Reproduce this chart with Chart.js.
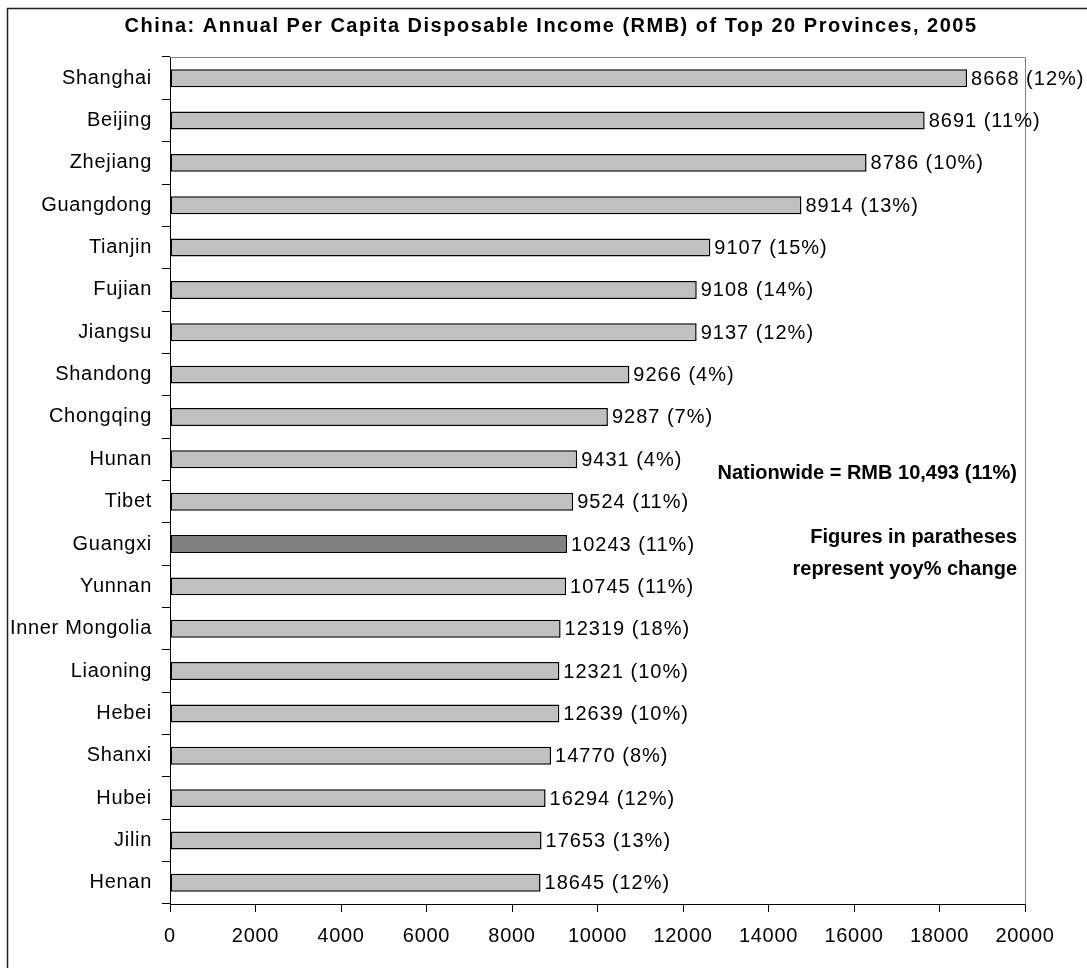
<!DOCTYPE html>
<html>
<head>
<meta charset="utf-8">
<script src="https://cdn.jsdelivr.net/npm/chart.js@4.4.1/dist/chart.umd.min.js"></script>
<style>
  html, body { margin: 0; padding: 0; background: #fff; }
  #wrap { width: 1087px; height: 968px; }
</style>
</head>
<body>
<div id="wrap"><canvas id="c" width="1087" height="968"></canvas></div>
<script>
// Provinces, top to bottom
const provinces = ['Shanghai', 'Beijing', 'Zhejiang', 'Guangdong', 'Tianjin', 'Fujian', 'Jiangsu',
  'Shandong', 'Chongqing', 'Hunan', 'Tibet', 'Guangxi', 'Yunnan', 'Inner Mongolia', 'Liaoning',
  'Hebei', 'Shanxi', 'Hubei', 'Jilin', 'Henan'];

// Annual per capita disposable income (RMB), 2005
const incomes = [18645, 17653, 16294, 14770, 12639, 12321, 12319, 10745, 10243, 9524,
  9431, 9287, 9266, 9137, 9108, 9107, 8914, 8786, 8691, 8668];

// Year-on-year change (%) paired with each income figure above
const yoyChange = [12, 13, 12, 8, 10, 10, 18, 11, 11, 11, 4, 7, 4, 12, 14, 15, 13, 10, 11, 12];

const xTicks = [0, 2000, 4000, 6000, 8000, 10000, 12000, 14000, 16000, 18000, 20000];

const highlighted = 'Guangxi';
const titleText = 'China: Annual Per Capita Disposable Income (RMB) of Top 20 Provinces, 2005';
const noteLines = [
  { text: 'Nationwide = RMB 10,493 (11%)', y: 473 },
  { text: 'Figures in paratheses', y: 537 },
  { text: 'represent yoy% change', y: 569 }
];

const FONT = "'Liberation Sans', Arial, Helvetica, sans-serif";

// Value labels are listed in the reverse order of the bars
const labelFor = i => {
  const j = incomes.length - 1 - i;
  return incomes[j] + ' (' + yoyChange[j] + '%)';
};

const decorations = {
  id: 'decorations',
  beforeDraw(chart) {
    // slightly looser tracking for the axis text
    chart.ctx.letterSpacing = '0.7px';
  },
  beforeDatasetsDraw(chart) {
    const { ctx, chartArea: a } = chart;
    ctx.save();
    // plot frame: top and right edges in grey
    ctx.strokeStyle = '#808080';
    ctx.lineWidth = 1;
    ctx.beginPath();
    ctx.moveTo(Math.round(a.left) + 0.5, Math.round(a.top) + 0.5);
    ctx.lineTo(Math.round(a.right) + 0.5, Math.round(a.top) + 0.5);
    ctx.lineTo(Math.round(a.right) + 0.5, Math.round(a.bottom) + 0.5);
    ctx.stroke();
    ctx.restore();
  },
  afterDraw(chart) {
    const { ctx } = chart;
    ctx.save();
    // outer border
    ctx.strokeStyle = '#222';
    ctx.lineWidth = 1.5;
    ctx.strokeRect(7.5, 8.5, 1200, 1200);

    // title
    ctx.fillStyle = '#000';
    ctx.font = 'bold 20px ' + FONT;
    ctx.letterSpacing = '1.5px';
    ctx.textAlign = 'center';
    ctx.textBaseline = 'middle';
    ctx.fillText(titleText, 551, 26);

    // value labels beside bars
    ctx.font = '20px ' + FONT;
    ctx.letterSpacing = '1px';
    ctx.textAlign = 'left';
    const meta = chart.getDatasetMeta(0);
    meta.data.forEach((bar, i) => {
      ctx.fillText(labelFor(i), bar.x + 4, bar.y + 1);
    });

    // notes
    ctx.font = 'bold 20px ' + FONT;
    ctx.letterSpacing = '0px';
    ctx.textAlign = 'right';
    noteLines.forEach(n => ctx.fillText(n.text, 1017, n.y));
    ctx.restore();
  }
};

new Chart(document.getElementById('c'), {
  type: 'bar',
  data: {
    labels: provinces,
    datasets: [{
      data: incomes,
      backgroundColor: provinces.map(p => p === highlighted ? '#808080' : '#C0C0C0'),
      borderColor: '#000',
      borderWidth: 1.5,
      borderSkipped: false,
      barPercentage: 0.425,
      categoryPercentage: 1
    }]
  },
  options: {
    indexAxis: 'y',
    responsive: false,
    animation: false,
    layout: { padding: { left: 0, right: 62, top: 57, bottom: 0 } },
    plugins: { legend: { display: false }, tooltip: { enabled: false }, title: { display: false } },
    scales: {
      x: {
        min: 0,
        max: 20000,
        afterBuildTicks: s => { s.ticks = xTicks.map(v => ({ value: v })); },
        ticks: {
          color: '#000',
          font: { family: FONT, size: 20 },
          padding: 12,
          maxRotation: 0,
          autoSkip: false,
          callback: v => String(v)
        },
        grid: { drawOnChartArea: false, tickLength: 8, color: '#000' },
        border: { color: '#000', width: 1 },
        afterFit: s => { s.height = 64; }
      },
      y: {
        ticks: {
          color: '#000',
          font: { family: FONT, size: 20 },
          padding: 10,
          autoSkip: false
        },
        grid: { offset: true, drawOnChartArea: false, tickLength: 8, color: '#000' },
        border: { color: '#000', width: 1 },
        afterFit: s => { s.width = 170; }
      }
    }
  },
  plugins: [decorations]
});
</script>
</body>
</html>
